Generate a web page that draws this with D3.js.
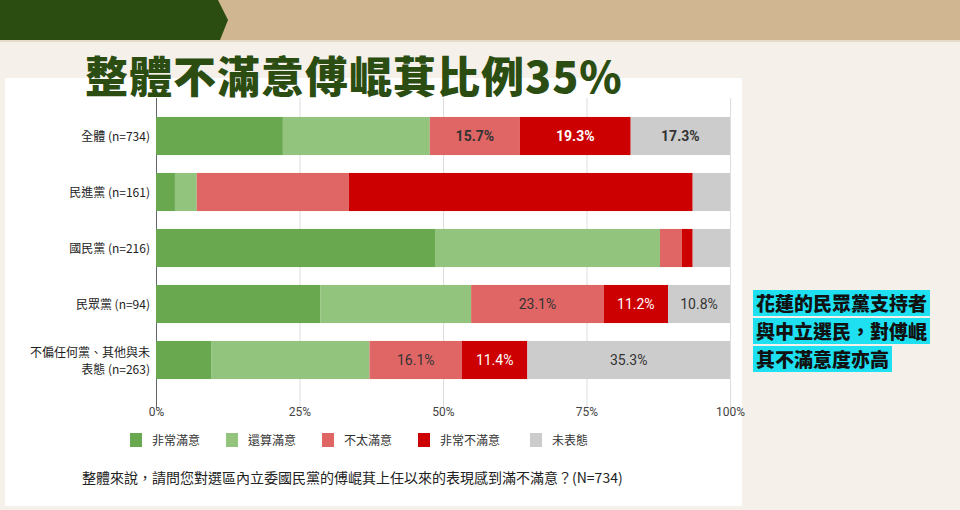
<!DOCTYPE html>
<html><head><meta charset="utf-8">
<script src="https://cdn.jsdelivr.net/npm/d3@7"></script>
<style>body{margin:0;background:#f5f0ea;font-family:"Noto Sans CJK TC",sans-serif;}</style>
</head><body><svg id="c" width="960" height="510"></svg>
<script>
var groups = ["全體 (n=734)", "民進黨 (n=161)", "國民黨 (n=216)", "民眾黨 (n=94)", "不偏任何黨、其他與未|表態  (n=263)"];
var series = ["非常滿意", "還算滿意", "不太滿意", "非常不滿意", "未表態"];
var colors = ["#6aa84f", "#93c47d", "#e06666", "#cc0000", "#cccccc"];
var values = [
  [22.1, 25.6, 15.7, 19.3, 17.3],
  [3.3, 3.8, 26.5, 59.9, 6.5],
  [48.6, 39.2, 3.8, 1.9, 6.5],
  [28.6, 26.3, 23.1, 11.2, 10.8],
  [9.6, 27.6, 16.1, 11.4, 35.3]
];
// which labels are shown: [row, series, bold]
var shown = [[0,2,true],[0,3,true],[0,4,true],[3,2,false],[3,3,false],[3,4,false],[4,2,false],[4,3,false],[4,4,false]];
var ticks = [0, 25, 50, 75, 100];

var svg = d3.select("#c");
// header band
svg.append("rect").attr("x",0).attr("y",0).attr("width",960).attr("height",40).attr("fill","#d1b791");
svg.append("path").attr("d","M0,0H218L228,20L220,40H0Z").attr("fill","#2b4d12");
svg.append("rect").attr("x",0).attr("y",40).attr("width",960).attr("height",2).attr("fill","#e6dccb");
// white panel
svg.append("rect").attr("x",5).attr("y",78).attr("width",737).attr("height",428).attr("fill","#fff");
svg.append("text").attr("x",85).attr("y",93).attr("fill","#2b4d12").attr("font-size",43)
  .attr("font-weight",900).attr("letter-spacing",1).text("整體不滿意傅崐萁比例35%");

var x = d3.scaleLinear().domain([0,100]).range([156,730]);
var y = d3.scaleBand().domain(groups).range([108,388]).paddingInner(0.32).paddingOuter(0.16);

var g = svg.append("g");
g.append("g").attr("transform","translate(0,388)")
  .call(d3.axisBottom(x).tickValues(ticks).tickSize(-310).tickFormat(function(d){return d+"%";}))
  .call(function(a){
    a.select(".domain").remove();
    a.selectAll(".tick line").attr("stroke", function(d){return d===0?"#666":"#ddd";}).attr("transform","translate(0,20)");
    a.selectAll(".tick text").attr("dy",25).attr("font-size",12).attr("fill","#444").attr("font-family","Roboto");
  });

values.forEach(function(row, i){
  var cum = 0;
  row.forEach(function(v, j){
    g.append("rect").attr("x",x(cum)).attr("y",y(groups[i])).attr("width",x(cum+v)-x(cum))
      .attr("height",y.bandwidth()).attr("fill",colors[j]);
    row[j+"c"] = cum + v/2;
    cum += v;
  });
  var lines = groups[i].split("|");
  lines.forEach(function(l, k){
    g.append("text").attr("x",150).attr("y",y(groups[i])+y.bandwidth()/2+5+(k-(lines.length-1)/2)*17)
      .attr("text-anchor","end").attr("font-size",12).attr("fill","#222").text(l);
  });
});
shown.forEach(function(s){
  var r = values[s[0]], v = r[s[1]];
  g.append("text").attr("x",x(r[s[1]+"c"])).attr("y",y(groups[s[0]])+y.bandwidth()/2+5)
    .attr("text-anchor","middle").attr("font-family","Roboto").attr("font-size",14)
    .attr("font-weight",s[2]?"bold":"normal")
    .attr("fill",s[1]===3?"#fff":"#333").text(v.toFixed(1)+"%");
});

// legend
var lx = [130, 226, 322, 418, 530];
series.forEach(function(s, i){
  svg.append("rect").attr("x",lx[i]).attr("y",433).attr("width",12).attr("height",14).attr("fill",colors[i]);
  svg.append("text").attr("x",lx[i]+22).attr("y",445).attr("font-size",12).attr("fill","#333").text(s);
});
svg.append("text").attr("x",82).attr("y",483).attr("font-size",14).attr("fill","#222").text("整體來說，請問您對選區內立委國民黨的傅崐萁上任以來的表現感到滿不滿意？(N=734)");

// callout
var callout = ["花蓮的民眾黨支持者", "與中立選民，對傅崐", "其不滿意度亦高"];
callout.forEach(function(t, i){
  var bg = svg.append("rect").attr("fill","#1ee0f0");
  var tx = svg.append("text").attr("x",756).attr("y",311+i*28).attr("font-size",19).attr("font-weight",900).attr("fill","#111").text(t);
  var b = tx.node().getBBox();
  bg.attr("x",b.x-3).attr("y",b.y+1).attr("width",b.width+6).attr("height",b.height-1);
});
</script></body></html>
